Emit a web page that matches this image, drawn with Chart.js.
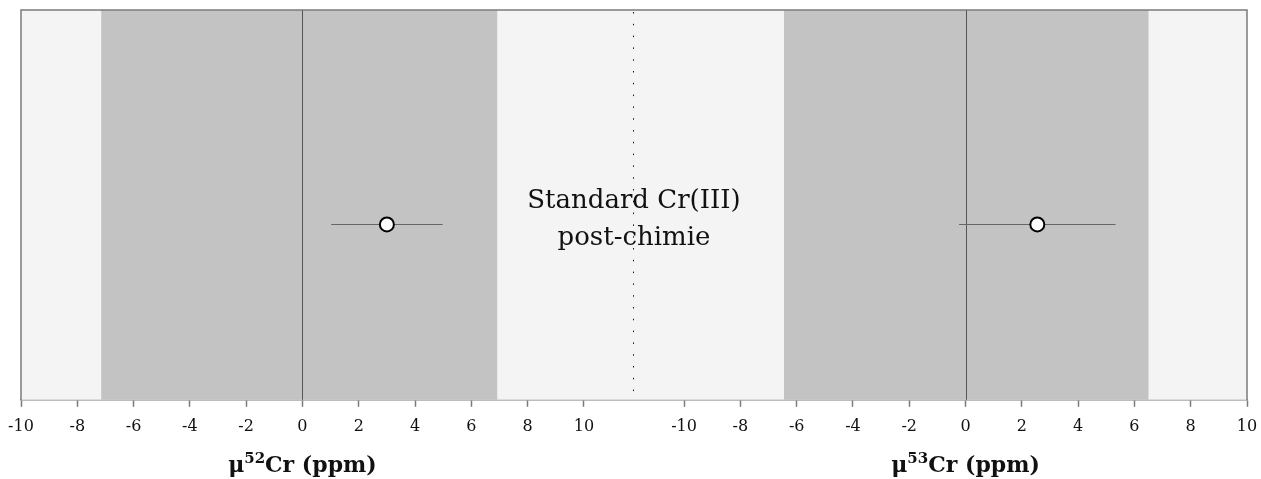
<!DOCTYPE html>
<html>
<head>
<meta charset="utf-8">
<script src="https://cdn.jsdelivr.net/npm/chart.js@4.4.0/dist/chart.umd.min.js"></script>
<style>
  body { margin: 0; background: #fff; }
  #wrap { position: relative; width: 1261px; height: 479px; font-family: "DejaVu Serif", serif; }
  #left { position: absolute; left: 0; top: 0; }
  #right { position: absolute; left: 634px; top: 0; }
  .note { position: absolute; left: 434px; width: 400px; text-align: center; top: 181px; font-size: 26px; line-height: 37px; color: #111; }
  .ttl { position: absolute; top: 451px; width: 300px; text-align: center; font-size: 22px; font-weight: bold; color: #111; }
  .ttl sup { font-size: 15px; vertical-align: 9px; line-height: 0; }
</style>
</head>
<body>
<div id="wrap">
  <canvas id="left" width="634" height="479"></canvas>
  <canvas id="right" width="627" height="479"></canvas>
  <div class="note">Standard Cr(III)<br>post-chimie</div>
  <div class="ttl" id="t0">μ<sup>52</sup>Cr (ppm)</div>
  <div class="ttl" id="t1">μ<sup>53</sup>Cr (ppm)</div>
</div>
<script>
// tick labels shared by both panels
const tickValues = [-10, -8, -6, -4, -2, 0, 2, 4, 6, 8, 10];

// per panel: μ52Cr (left), μ53Cr (right)
const isotopes = ['52', '53'];
const meanValues = [3.0, 2.55];
const errValues = [1.98, 2.78];
const bandLow = [-7.15, -6.45];
const bandHigh = [6.92, 6.5];
const axisMin = [-10, -11.78];
const axisMax = [11.78, 10];
const rowY = 0.45;

const frameColor = '#7b7b7b';
const canvasLeft = [0, 634];

function makePanel(id, i) {
  const isLeft = i === 0;
  const bgPlugin = {
    id: 'bands' + i,
    beforeDatasetsDraw(chart) {
      const { ctx, chartArea: a, scales: { x } } = chart;
      ctx.save();
      ctx.fillStyle = '#f4f4f4';
      ctx.fillRect(a.left, a.top, a.right - a.left, a.bottom - a.top);
      const b0 = x.getPixelForValue(bandLow[i]);
      const b1 = x.getPixelForValue(bandHigh[i]);
      ctx.fillStyle = '#c3c3c3';
      ctx.fillRect(b0, a.top, b1 - b0, a.bottom - a.top);
      // zero line
      const z = Math.round(x.getPixelForValue(0)) + 0.5;
      ctx.strokeStyle = '#555';
      ctx.lineWidth = 1;
      ctx.beginPath();
      ctx.moveTo(z, a.top);
      ctx.lineTo(z, a.bottom);
      ctx.stroke();
      // frame
      ctx.strokeStyle = frameColor;
      ctx.lineWidth = 1.5;
      ctx.beginPath();
      ctx.moveTo(isLeft ? a.left : a.right, a.bottom);
      ctx.lineTo(isLeft ? a.left : a.right, a.top);
      ctx.lineTo(isLeft ? a.right : a.left, a.top);
      ctx.stroke();
      // dotted separator
      if (isLeft) {
        ctx.strokeStyle = '#111';
        ctx.lineWidth = 1;
        ctx.setLineDash([1.5, 10.3]);
        ctx.beginPath();
        ctx.moveTo(a.right - 0.5, a.top + 2);
        ctx.lineTo(a.right - 0.5, a.bottom);
        ctx.stroke();
        ctx.setLineDash([]);
      }
      // error bar
      const y = chart.scales.y.getPixelForValue(rowY);
      ctx.strokeStyle = '#666';
      ctx.lineWidth = 1;
      ctx.beginPath();
      ctx.moveTo(x.getPixelForValue(meanValues[i] - errValues[i]), Math.round(y) + 0.5);
      ctx.lineTo(x.getPixelForValue(meanValues[i] + errValues[i]), Math.round(y) + 0.5);
      ctx.stroke();
      ctx.restore();
    },
    afterDraw(chart) {
      const x = chart.scales.x;
      const el = document.getElementById('t' + i);
      el.style.left = (canvasLeft[i] + x.getPixelForValue(0) - 150) + 'px';
    }
  };

  return new Chart(document.getElementById(id), {
    type: 'scatter',
    data: {
      datasets: [{
        data: [{ x: meanValues[i], y: rowY }],
        backgroundColor: '#fff',
        borderColor: '#000',
        borderWidth: 2,
        pointRadius: 7,
        pointHoverRadius: 7
      }]
    },
    options: {
      responsive: false,
      animation: false,
      events: [],
      layout: { autoPadding: false, padding: { top: 10, left: isLeft ? 21 : 0, right: isLeft ? 0 : 14, bottom: 33 } },
      plugins: { legend: { display: false }, tooltip: { enabled: false } },
      scales: {
        x: {
          type: 'linear',
          min: axisMin[i],
          max: axisMax[i],
          afterBuildTicks(scale) {
            scale.ticks = tickValues.map(v => ({ value: v }));
          },
          afterFit(scale) {
            scale.paddingLeft = 0;
            scale.paddingRight = 0;
          },
          grid: { drawOnChartArea: false, drawTicks: true, tickLength: 7, tickColor: frameColor, tickWidth: 1.5 },
          border: { display: true, color: frameColor, width: 1.5 },
          ticks: {
            autoSkip: false,
            maxRotation: 0,
            padding: 10,
            color: '#111',
            font: { family: 'DejaVu Serif', size: 16 }
          }
        },
        y: { display: false, min: 0, max: 1 }
      }
    },
    plugins: [bgPlugin]
  });
}

makePanel('left', 0);
makePanel('right', 1);
</script>
</body>
</html>
